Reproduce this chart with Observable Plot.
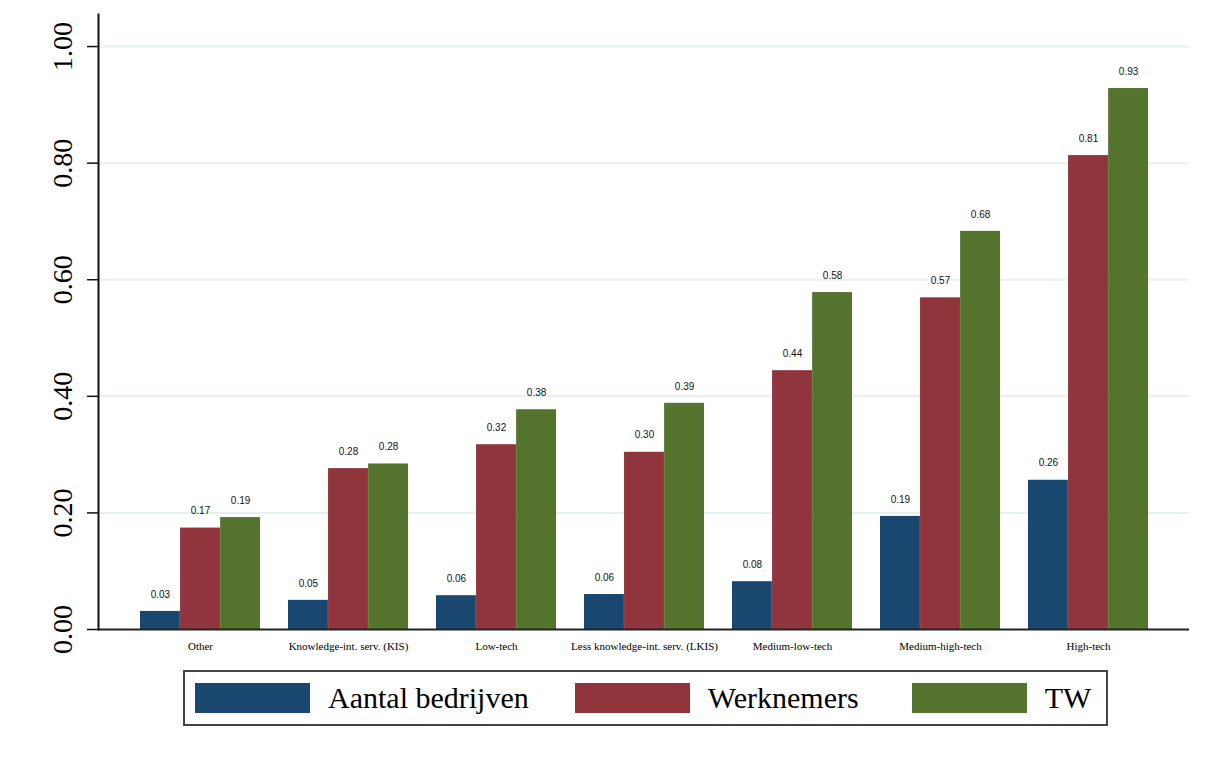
<!DOCTYPE html>
<html>
<head>
<meta charset="utf-8">
<script src="https://cdn.jsdelivr.net/npm/d3@7"></script>
<script src="https://cdn.jsdelivr.net/npm/@observablehq/plot@0.6"></script>
<style>
  html, body { margin: 0; padding: 0; background: #ffffff; }
  #chart { width: 1208px; }
  #legend {
    position: absolute; left: 183px; top: 670px; width: 921px; height: 52px;
    border: 2px solid #444; box-sizing: content-box;
    display: flex; align-items: center; font-family: "Liberation Serif", "Times New Roman", serif;
    font-size: 30px; color: #000;
  }
  .item { display: flex; align-items: center; }
  .sw { width: 115px; height: 30px; margin-right: 18px; }
  .lab { white-space: nowrap; }
</style>
</head>
<body>
<div id="chart"></div>
<div id="legend"></div>
<script>
const categories = ["Other", "Knowledge-int. serv. (KIS)", "Low-tech", "Less knowledge-int. serv. (LKIS)", "Medium-low-tech", "Medium-high-tech", "High-tech"];
const series = ["Aantal bedrijven", "Werknemers", "TW"];
const bedrijven = [0.031, 0.050, 0.058, 0.060, 0.082, 0.194, 0.256];
const werknemers = [0.174, 0.276, 0.317, 0.304, 0.444, 0.569, 0.813];
const tw = [0.192, 0.284, 0.377, 0.388, 0.578, 0.683, 0.928];
const colors = ["#1a476f", "#90353b", "#55752f"];
const yTicks = [0, 0.2, 0.4, 0.6, 0.8, 1.0];

const seriesValues = [bedrijven, werknemers, tw];
const data = [];
series.forEach((s, si) => categories.forEach((c, ci) => data.push({category: c, series: s, si, value: seriesValues[si][ci]})));

const W = 1208, H = 664, mL = 98, mR = 19, mT = 14, mB = 35;
const padIn = 0.19, padOut = 0.272;
const step = (W - mL - mR) / (categories.length - padIn + 2 * padOut);
const bw = step * (1 - padIn);
const sub = bw / series.length;
const serif = "'Liberation Serif', 'Times New Roman', serif";

const marks = [
  Plot.gridY(yTicks.slice(1), {stroke: "#e6eff1", strokeOpacity: 1, strokeWidth: 2})
];
series.forEach((s, si) => {
  const d = data.filter(r => r.si === si);
  marks.push(Plot.barY(d, {
    x: "category", y: "value", fill: colors[si],
    insetLeft: si * sub, insetRight: (series.length - 1 - si) * sub
  }));
  marks.push(Plot.text(d, {
    x: "category", y: "value", text: r => r.value.toFixed(2),
    dx: (si - (series.length - 1) / 2) * sub, dy: -17,
    fontSize: 10, fontFamily: "'Liberation Sans', Arial, sans-serif", fill: "#111"
  }));
});
marks.push(
  Plot.ruleY([0], {stroke: "#222", strokeWidth: 2}),
  Plot.frame({anchor: "left", stroke: "#111", strokeWidth: 2}),
  Plot.axisY(yTicks, {tickSize: 11, tickFormat: () => "", label: null, stroke: "#111", strokeWidth: 1.5}),
  Plot.text(yTicks, {
    y: d => d, text: d => d.toFixed(2), frameAnchor: "left", textAnchor: "middle", lineAnchor: "middle",
    dx: -35, rotate: -90,
    fontSize: 28, fontFamily: serif, fill: "#000"
  }),
  Plot.axisX({tickSize: 0, tickPadding: 13, fontSize: 11, fontFamily: serif, label: null, fill: "#000"})
);

const chart = Plot.plot({
  width: W, height: H,
  marginLeft: mL, marginRight: mR, marginTop: mT, marginBottom: mB,
  style: {background: "#ffffff", color: "#000"},
  x: {type: "band", domain: categories, paddingInner: padIn, paddingOuter: padOut},
  y: {domain: [0, 1.055], axis: null},
  marks
});
document.getElementById("chart").appendChild(chart);

const legend = document.getElementById("legend");
const gaps = [46, 53, 0];
series.forEach((s, i) => {
  const item = document.createElement("div");
  item.className = "item";
  item.style.marginLeft = i === 0 ? "10px" : "0px";
  const sw = document.createElement("div");
  sw.className = "sw";
  sw.style.background = colors[i];
  const lab = document.createElement("span");
  lab.className = "lab";
  lab.style.marginRight = gaps[i] + "px";
  lab.textContent = s;
  item.appendChild(sw);
  item.appendChild(lab);
  legend.appendChild(item);
});
</script>
</body>
</html>
